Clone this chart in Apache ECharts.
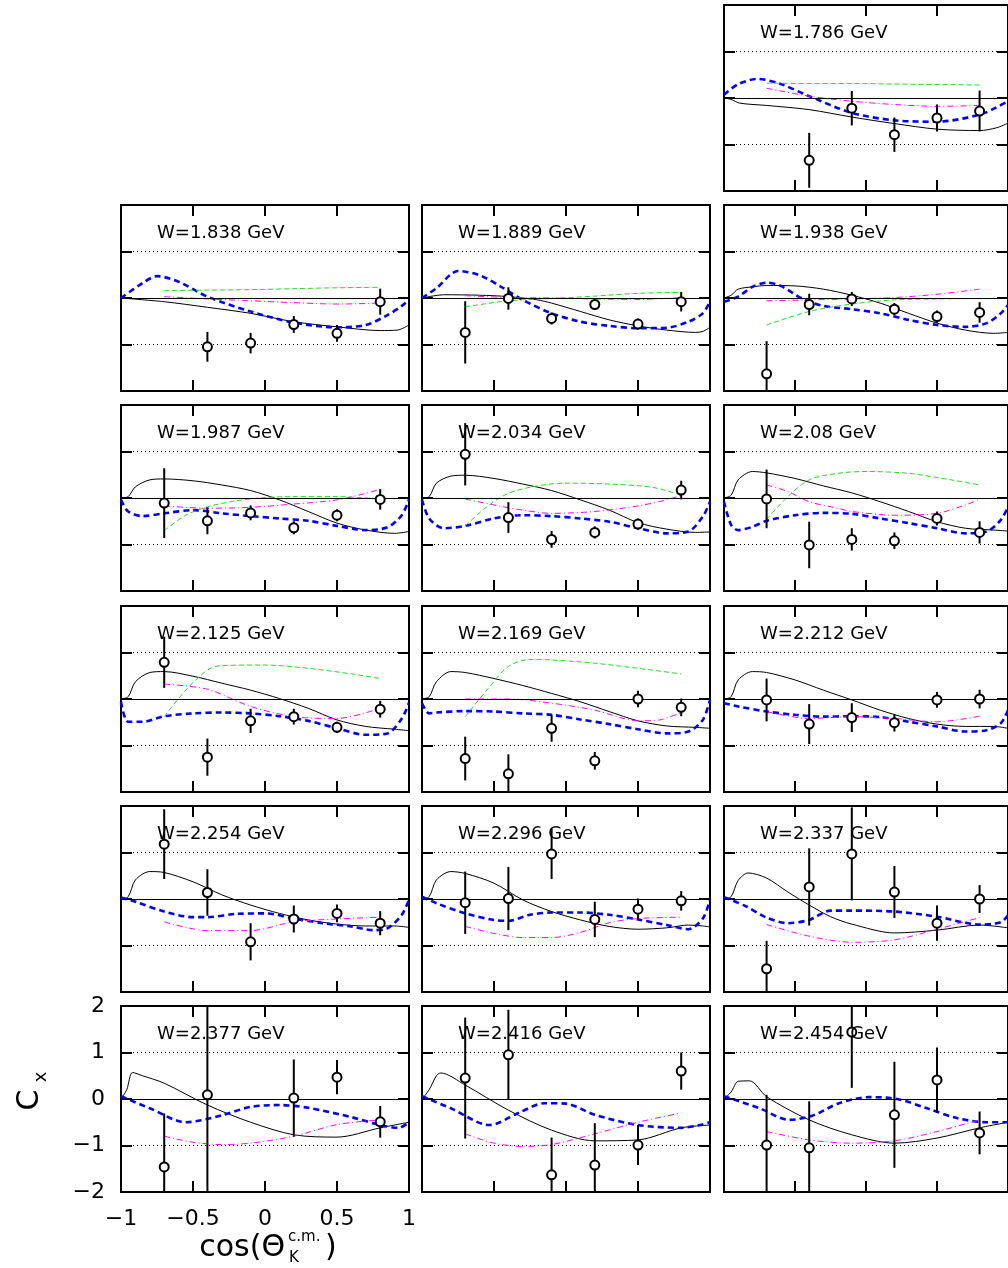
<!DOCTYPE html>
<html><head><meta charset="utf-8">
<script src="https://cdn.jsdelivr.net/npm/echarts@6/dist/echarts.min.js"></script>
<style>html,body{margin:0;padding:0;background:#fff}#c{width:1008px;height:1268px}</style>
</head><body><div id="c"></div>
<script>
// ---------- DATA ----------
const energies = ['1.786','1.838','1.889','1.938','1.987','2.034','2.08','2.125','2.169','2.212','2.254','2.296','2.337','2.377','2.416','2.454'];
const xTicks = [-1,-0.5,0,0.5,1];
const yTicks = [-2,-1,0,1,2];
// measured Cx: [cos, value, error]
const measured = [
 [[-0.4,-1.34,0.59],[-0.1,-0.22,0.37],[0.2,-0.79,0.37],[0.5,-0.43,0.29],[0.8,-0.28,0.44]],
 [[-0.4,-1.05,0.32],[-0.1,-0.97,0.22],[0.2,-0.57,0.18],[0.5,-0.76,0.18],[0.8,-0.08,0.28]],
 [[-0.7,-0.74,0.67],[-0.4,-0.01,0.24],[-0.1,-0.44,0.13],[0.2,-0.14,0.11],[0.5,-0.56,0.12],[0.8,-0.08,0.21]],
 [[-0.7,-1.63,0.7],[-0.4,-0.14,0.23],[-0.1,-0.02,0.15],[0.2,-0.24,0.13],[0.5,-0.4,0.13],[0.8,-0.31,0.22]],
 [[-0.7,-0.11,0.75],[-0.4,-0.49,0.29],[-0.1,-0.32,0.16],[0.2,-0.64,0.14],[0.5,-0.37,0.13],[0.8,-0.03,0.22]],
 [[-0.7,0.94,0.67],[-0.4,-0.42,0.33],[-0.1,-0.89,0.18],[0.2,-0.74,0.13],[0.5,-0.56,0.12],[0.8,0.17,0.2]],
 [[-0.7,-0.02,0.63],[-0.4,-1.01,0.5],[-0.1,-0.89,0.24],[0.2,-0.92,0.18],[0.5,-0.44,0.15],[0.8,-0.74,0.24]],
 [[-0.7,0.79,0.55],[-0.4,-1.25,0.4],[-0.1,-0.47,0.26],[0.2,-0.38,0.17],[0.5,-0.61,0.12],[0.8,-0.22,0.18]],
 [[-0.7,-1.28,0.47],[-0.4,-1.61,0.42],[-0.1,-0.63,0.29],[0.2,-1.33,0.19],[0.5,0,0.18],[0.8,-0.18,0.19]],
 [[-0.7,-0.02,0.46],[-0.4,-0.54,0.43],[-0.1,-0.4,0.31],[0.2,-0.51,0.19],[0.5,-0.02,0.17],[0.8,0,0.2]],
 [[-0.7,1.18,0.75],[-0.4,0.14,0.5],[-0.1,-0.92,0.4],[0.2,-0.43,0.29],[0.5,-0.31,0.19],[0.8,-0.52,0.26]],
 [[-0.7,-0.08,0.67],[-0.4,0.01,0.68],[-0.1,0.97,0.54],[0.2,-0.44,0.38],[0.5,-0.22,0.23],[0.8,-0.04,0.21]],
 [[-0.7,-1.5,0.6],[-0.4,0.26,0.83],[-0.1,0.97,1.0],[0.2,0.15,0.56],[0.5,-0.52,0.38],[0.8,0,0.3]],
 [[-0.7,-1.46,1.15],[-0.4,0.09,2.3],[0.2,0.02,0.83],[0.5,0.47,0.37],[0.8,-0.49,0.34]],
 [[-0.7,0.45,1.3],[-0.4,0.95,0.97],[-0.1,-1.63,0.8],[0.2,-1.42,0.9],[0.5,-0.99,0.43],[0.8,0.6,0.4]],
 [[-0.7,-0.99,1.08],[-0.4,-1.05,1.0],[-0.1,1.44,1.2],[0.2,-0.34,1.14],[0.5,0.41,0.7],[0.8,-0.73,0.46]]
];
// model curves
const curveBlack = [
 [[-1,0],[-0.95,-0.03],[-0.89,-0.11],[-0.7,-0.16],[-0.4,-0.25],[-0.1,-0.41],[0.2,-0.55],[0.5,-0.67],[0.8,-0.7],[0.92,-0.64],[1,-0.54]],
 [[-1,0],[-0.7,-0.08],[-0.4,-0.2],[-0.1,-0.33],[0.2,-0.51],[0.5,-0.62],[0.8,-0.7],[0.92,-0.69],[1,-0.58]],
 [[-1,0],[-0.93,0.04],[-0.85,0.07],[-0.6,0.06],[-0.4,0.03],[-0.2,-0.04],[-0.1,-0.11],[0.1,-0.29],[0.3,-0.47],[0.5,-0.6],[0.7,-0.69],[0.9,-0.74],[0.95,-0.72],[1,-0.63]],
 [[-1,0],[-0.95,0.06],[-0.9,0.19],[-0.8,0.24],[-0.7,0.27],[-0.5,0.26],[-0.3,0.19],[-0.1,0.06],[0.1,-0.11],[0.3,-0.33],[0.5,-0.54],[0.7,-0.69],[0.9,-0.76],[1,-0.74]],
 [[-1,0],[-0.95,0.03],[-0.9,0.24],[-0.8,0.39],[-0.7,0.41],[-0.5,0.37],[-0.3,0.28],[-0.1,0.16],[0.1,-0.04],[0.3,-0.29],[0.5,-0.54],[0.7,-0.69],[0.9,-0.76],[1,-0.72]],
 [[-1,0],[-0.95,0.03],[-0.9,0.32],[-0.8,0.47],[-0.7,0.49],[-0.5,0.42],[-0.3,0.3],[-0.1,0.16],[0.1,-0.04],[0.3,-0.26],[0.5,-0.53],[0.7,-0.67],[0.9,-0.74],[1,-0.73]],
 [[-1,0],[-0.95,0.06],[-0.9,0.39],[-0.8,0.57],[-0.7,0.54],[-0.5,0.42],[-0.3,0.26],[-0.1,0.11],[0.1,-0.08],[0.3,-0.29],[0.5,-0.51],[0.7,-0.65],[0.9,-0.69],[1,-0.71]],
 [[-1,0],[-0.95,0.05],[-0.9,0.37],[-0.8,0.57],[-0.7,0.59],[-0.5,0.49],[-0.3,0.34],[-0.1,0.19],[0.1,0.01],[0.3,-0.2],[0.5,-0.45],[0.7,-0.59],[0.9,-0.65],[1,-0.68]],
 [[-1,0],[-0.95,0.05],[-0.9,0.37],[-0.8,0.59],[-0.7,0.57],[-0.5,0.44],[-0.3,0.29],[-0.1,0.12],[0.1,-0.06],[0.3,-0.27],[0.5,-0.47],[0.7,-0.58],[0.9,-0.61],[1,-0.63]],
 [[-1,0],[-0.95,0.05],[-0.9,0.41],[-0.8,0.59],[-0.7,0.57],[-0.5,0.41],[-0.3,0.19],[-0.1,-0.02],[0.1,-0.24],[0.3,-0.42],[0.5,-0.54],[0.7,-0.59],[0.9,-0.59],[1,-0.63]],
 [[-1,0],[-0.95,0.05],[-0.9,0.41],[-0.8,0.59],[-0.7,0.57],[-0.5,0.37],[-0.3,0.09],[-0.1,-0.13],[0.1,-0.31],[0.3,-0.45],[0.5,-0.54],[0.7,-0.58],[0.9,-0.58],[1,-0.61]],
 [[-1,0],[-0.95,0.05],[-0.9,0.41],[-0.8,0.59],[-0.7,0.55],[-0.5,0.34],[-0.3,-0.02],[-0.1,-0.27],[0.1,-0.45],[0.3,-0.59],[0.5,-0.65],[0.7,-0.62],[0.85,-0.56],[0.95,-0.58],[1,-0.6]],
 [[-1,0],[-0.95,0.05],[-0.9,0.4],[-0.83,0.56],[-0.7,0.45],[-0.55,0.15],[-0.4,-0.13],[-0.25,-0.38],[-0.1,-0.54],[0.2,-0.73],[0.5,-0.67],[0.8,-0.56],[1,-0.62]],
 [[-1,0],[-0.96,0.2],[-0.92,0.57],[-0.85,0.5],[-0.7,0.34],[-0.4,-0.13],[-0.1,-0.5],[0.2,-0.77],[0.5,-0.82],[0.8,-0.62],[1,-0.5]],
 [[-1,0],[-0.95,0.2],[-0.9,0.5],[-0.87,0.56],[-0.7,0.3],[-0.4,-0.24],[-0.1,-0.67],[0.2,-0.9],[0.5,-0.88],[0.8,-0.62],[1,-0.56]],
 [[-1,0],[-0.95,0.15],[-0.9,0.38],[-0.82,0.39],[-0.7,0.05],[-0.4,-0.45],[-0.1,-0.77],[0.2,-0.95],[0.5,-0.84],[0.8,-0.62],[1,-0.5]]
];
const curveBlue = [
 [[-1,0.07],[-0.9,0.3],[-0.76,0.41],[-0.6,0.3],[-0.4,0.04],[-0.1,-0.32],[0.2,-0.48],[0.5,-0.51],[0.8,-0.36],[0.92,-0.2],[1,-0.07]],
 [[-1,0],[-0.85,0.32],[-0.75,0.47],[-0.6,0.35],[-0.4,0.03],[-0.1,-0.29],[0.2,-0.53],[0.5,-0.63],[0.7,-0.58],[0.85,-0.37],[0.95,-0.17],[1,-0.04]],
 [[-1,0],[-0.9,0.21],[-0.75,0.58],[-0.6,0.49],[-0.45,0.24],[-0.3,-0.04],[-0.1,-0.33],[0.1,-0.51],[0.3,-0.6],[0.5,-0.65],[0.7,-0.64],[0.85,-0.51],[0.95,-0.33],[1,-0.08]],
 [[-1,-0.08],[-0.9,0.03],[-0.8,0.24],[-0.7,0.33],[-0.6,0.26],[-0.45,-0.01],[-0.3,-0.17],[-0.1,-0.24],[0.1,-0.33],[0.3,-0.47],[0.5,-0.58],[0.7,-0.62],[0.85,-0.54],[0.95,-0.33],[1,-0.15]],
 [[-1,-0.04],[-0.95,-0.29],[-0.85,-0.39],[-0.7,-0.33],[-0.5,-0.26],[-0.3,-0.33],[-0.1,-0.39],[0.1,-0.44],[0.3,-0.49],[0.5,-0.6],[0.7,-0.69],[0.85,-0.63],[0.95,-0.37],[1,-0.03]],
 [[-1,-0.04],[-0.95,-0.44],[-0.85,-0.65],[-0.7,-0.6],[-0.5,-0.44],[-0.3,-0.37],[-0.1,-0.39],[0.1,-0.44],[0.3,-0.51],[0.5,-0.65],[0.7,-0.76],[0.85,-0.72],[0.95,-0.4],[1,-0.08]],
 [[-1,-0.08],[-0.95,-0.58],[-0.9,-0.69],[-0.8,-0.62],[-0.7,-0.49],[-0.5,-0.37],[-0.3,-0.32],[-0.1,-0.34],[0.1,-0.44],[0.3,-0.54],[0.5,-0.65],[0.7,-0.76],[0.85,-0.72],[0.95,-0.47],[1,-0.19]],
 [[-1,-0.06],[-0.95,-0.49],[-0.85,-0.49],[-0.7,-0.37],[-0.5,-0.31],[-0.3,-0.29],[-0.1,-0.31],[0.1,-0.37],[0.3,-0.47],[0.5,-0.63],[0.7,-0.77],[0.85,-0.74],[0.95,-0.42],[1,-0.08]],
 [[-1,-0.09],[-0.95,-0.31],[-0.9,-0.29],[-0.7,-0.26],[-0.5,-0.27],[-0.3,-0.31],[-0.1,-0.34],[0.1,-0.44],[0.3,-0.54],[0.5,-0.65],[0.7,-0.74],[0.85,-0.7],[0.95,-0.45],[1,-0.02]],
 [[-1,-0.09],[-0.9,-0.16],[-0.7,-0.27],[-0.5,-0.34],[-0.3,-0.38],[-0.1,-0.37],[0.1,-0.39],[0.3,-0.49],[0.5,-0.59],[0.7,-0.7],[0.85,-0.67],[0.95,-0.52],[1,-0.24]],
 [[-1,0.03],[-0.9,-0.06],[-0.7,-0.27],[-0.5,-0.39],[-0.4,-0.39],[-0.2,-0.32],[0,-0.31],[0.2,-0.42],[0.4,-0.52],[0.6,-0.59],[0.75,-0.67],[0.85,-0.63],[0.95,-0.34],[1,-0.01]],
 [[-1,0.05],[-0.9,-0.09],[-0.7,-0.31],[-0.5,-0.45],[-0.4,-0.47],[-0.25,-0.34],[-0.1,-0.29],[0.1,-0.29],[0.3,-0.34],[0.5,-0.44],[0.7,-0.56],[0.85,-0.65],[0.95,-0.42],[1,-0.01]],
 [[-1,0.04],[-0.85,-0.15],[-0.7,-0.4],[-0.55,-0.52],[-0.4,-0.45],[-0.25,-0.25],[-0.1,-0.25],[0.2,-0.27],[0.5,-0.38],[0.8,-0.55],[0.95,-0.5],[1,-0.35]],
 [[-1,0.06],[-0.8,-0.2],[-0.55,-0.5],[-0.3,-0.35],[-0.1,-0.17],[0.1,-0.13],[0.3,-0.19],[0.6,-0.39],[0.8,-0.56],[0.93,-0.62],[1,-0.5]],
 [[-1,0.06],[-0.8,-0.2],[-0.53,-0.56],[-0.33,-0.3],[-0.15,-0.09],[0,-0.1],[0.2,-0.34],[0.5,-0.56],[0.8,-0.62],[0.93,-0.56],[1,-0.5]],
 [[-1,0.06],[-0.75,-0.2],[-0.54,-0.45],[-0.37,-0.35],[-0.19,-0.09],[0.02,0.04],[0.22,0],[0.43,-0.2],[0.64,-0.41],[0.85,-0.5],[1,-0.5]]
];
const curveGreen = [
 [[-0.7,0.32],[-0.4,0.31],[-0.1,0.31],[0.2,0.3],[0.5,0.29],[0.8,0.28]],
 [[-0.7,0.16],[-0.4,0.17],[-0.1,0.18],[0.2,0.2],[0.5,0.22],[0.8,0.23]],
 [[-0.7,-0.19],[-0.4,-0.06],[-0.1,-0.01],[0.2,0.04],[0.5,0.1],[0.8,0.12]],
 [[-0.7,-0.58],[-0.4,-0.29],[-0.1,-0.13],[0.2,-0.04],[0.5,-0.02],[0.8,-0.01]],
 [[-0.7,-0.7],[-0.55,-0.37],[-0.4,-0.19],[-0.2,-0.06],[0,0.01],[0.2,0.03],[0.5,0.03],[0.8,-0.02]],
 [[-0.7,-0.6],[-0.55,-0.19],[-0.4,0.1],[-0.2,0.26],[0,0.32],[0.3,0.3],[0.6,0.23],[0.8,0.06]],
 [[-0.7,-0.46],[-0.55,0.03],[-0.4,0.39],[-0.2,0.53],[0,0.57],[0.3,0.53],[0.6,0.39],[0.8,0.28]],
 [[-0.7,-0.38],[-0.55,0.19],[-0.4,0.62],[-0.3,0.72],[0,0.73],[0.3,0.66],[0.6,0.54],[0.8,0.44]],
 [[-0.7,-0.38],[-0.55,0.19],[-0.4,0.7],[-0.25,0.85],[-0.1,0.84],[0.2,0.77],[0.5,0.66],[0.8,0.54]],
 [],[],[],[],[],[],[]
];
const curveMagenta = [
 [[-0.7,0.21],[-0.4,0.04],[-0.1,-0.07],[0.2,-0.14],[0.5,-0.18],[0.8,-0.16]],
 [[-0.7,0.03],[-0.4,-0.02],[-0.1,-0.06],[0.2,-0.1],[0.5,-0.13],[0.8,-0.11]],
 [[-0.7,0.05],[-0.4,0.01],[-0.1,0],[0.2,-0.02],[0.5,-0.03],[0.8,0.01]],
 [[-0.7,-0.06],[-0.4,-0.04],[-0.1,-0.02],[0.2,0.01],[0.5,0.08],[0.8,0.19]],
 [[-0.7,-0.17],[-0.4,-0.22],[-0.1,-0.2],[0.2,-0.13],[0.5,-0.04],[0.7,0.1],[0.8,0.19]],
 [[-0.7,-0.02],[-0.5,-0.15],[-0.3,-0.26],[-0.1,-0.33],[0.2,-0.29],[0.5,-0.17],[0.7,-0.04],[0.8,0.06]],
 [[-0.7,0.28],[-0.55,0.14],[-0.4,-0.08],[-0.2,-0.22],[-0.1,-0.29],[0.2,-0.37],[0.5,-0.33],[0.7,-0.15],[0.8,-0.03]],
 [[-0.7,0.32],[-0.4,0.21],[-0.1,-0.16],[0.2,-0.38],[0.5,-0.42],[0.8,-0.2]],
 [[-0.7,0],[-0.4,0],[-0.1,-0.09],[0.2,-0.24],[0.5,-0.47],[0.65,-0.45],[0.8,-0.29]],
 [[-0.7,-0.27],[-0.4,-0.42],[-0.1,-0.38],[0.2,-0.42],[0.5,-0.49],[0.8,-0.37]],
 [[-0.7,-0.49],[-0.4,-0.68],[-0.1,-0.68],[0.2,-0.49],[0.5,-0.43],[0.8,-0.39]],
 [[-0.7,-0.59],[-0.5,-0.74],[-0.3,-0.83],[-0.1,-0.83],[0.1,-0.72],[0.3,-0.51],[0.5,-0.42],[0.8,-0.39]],
 [[-0.7,-0.55],[-0.4,-0.8],[-0.1,-0.93],[0.2,-0.88],[0.5,-0.65],[0.8,-0.4]],
 [[-0.7,-0.8],[-0.5,-0.93],[-0.3,-0.98],[-0.1,-0.95],[0.2,-0.8],[0.5,-0.55],[0.8,-0.45]],
 [[-0.7,-0.75],[-0.5,-0.95],[-0.3,-1.02],[-0.1,-0.98],[0.2,-0.75],[0.5,-0.5],[0.8,-0.3]],
 [[-0.7,-0.7],[-0.4,-0.88],[-0.1,-0.95],[0.2,-0.9],[0.5,-0.7],[0.8,-0.45]]
];

// ---------- LAYOUT ----------
const colLeft = [121, 422, 724];
const rowTop = [5, 205, 405, 606, 806, 1006];
const PW = 288, PH = 186;
const labeledPanel = 13;
function place(i){ if (i === 0) return [0, 2]; const k = i - 1; return [Math.floor(k/3) + 1, k % 3]; }
const fmt = v => (v < 0 ? '\u2212' + String(-v) : String(v));

const grid = [], xAxis = [], yAxis = [], series = [], graphic = [];
const tick = {show:true, inside:true, length:11, lineStyle:{color:'#000', width:2}};
const noLine = {show:false, onZero:false};
const lblFont = {show:true, color:'#000', fontFamily:'DejaVu Sans', fontSize:22, formatter: fmt};

energies.forEach((w, i) => {
  const [r, c] = place(i);
  const lab = (i === labeledPanel);
  grid.push({left:colLeft[c], top:rowTop[r], width:PW, height:PH, show:true, borderColor:'#000', borderWidth:2, backgroundColor:'rgba(0,0,0,0)', containLabel:false});
  xAxis.push({gridIndex:i, type:'value', min:xTicks[0], max:xTicks[xTicks.length-1], interval:0.5, position:'bottom',
    axisLine:noLine, axisTick:tick, splitLine:{show:false},
    axisLabel: lab ? Object.assign({margin:16}, lblFont) : {show:false}});
  xAxis.push({gridIndex:i, type:'value', min:-1, max:1, interval:0.5, position:'top',
    axisLine:noLine, axisTick:tick, splitLine:{show:false}, axisLabel:{show:false}});
  yAxis.push({gridIndex:i, type:'value', min:yTicks[0], max:yTicks[yTicks.length-1], interval:1, position:'left',
    axisLine:noLine, axisTick:tick,
    splitLine:{show:true, lineStyle:{color:'#000', width:1, type:[1,3]}},
    axisLabel: lab ? Object.assign({margin:16}, lblFont) : {show:false}});
  yAxis.push({gridIndex:i, type:'value', min:-2, max:2, interval:1, position:'right',
    axisLine:noLine, axisTick:tick, splitLine:{show:false}, axisLabel:{show:false}});
  const ax = {xAxisIndex:2*i, yAxisIndex:2*i};

  series.push(Object.assign({type:'line', data:curveBlack[i], smooth:0.3, symbol:'none', silent:true, z:3,
    lineStyle:{color:'#000', width:1},
    markLine:{symbol:'none', silent:true, label:{show:false}, lineStyle:{color:'#000', width:1, type:'solid'}, data:[{yAxis:0}]}}, ax));
  series.push(Object.assign({type:'line', data:curveBlue[i], smooth:0.3, symbol:'none', silent:true, z:3,
    lineStyle:{color:'#0000ff', width:2.6, type:[6,4]}}, ax));
  if (curveGreen[i].length) series.push(Object.assign({type:'line', data:curveGreen[i], smooth:0.3, symbol:'none', silent:true, z:3,
    lineStyle:{color:'#22dd22', width:1, type:[5,3]}}, ax));
  series.push(Object.assign({type:'line', data:curveMagenta[i], smooth:0.3, symbol:'none', silent:true, z:3,
    lineStyle:{color:'#ff00ff', width:1, type:[6,3,1,3]}}, ax));
  series.push(Object.assign({type:'custom', data:measured[i], dimensions:['x','y','e'], encode:{x:0, y:1}, silent:true, z:5,
    renderItem:(params, api) => {
      const x = api.value(0), y = api.value(1), e = api.value(2);
      const hi = Math.min(2, y + e), lo = Math.max(-2, y - e);
      const a = api.coord([x, hi]), b = api.coord([x, lo]);
      return {type:'line', shape:{x1:a[0], y1:a[1], x2:b[0], y2:b[1]}, style:{stroke:'#000', lineWidth:2}};
    }}, ax));
  series.push(Object.assign({type:'scatter', data:measured[i].map(d => [d[0], d[1]]), symbol:'circle', symbolSize:9, silent:true, z:6,
    itemStyle:{color:'#ffffff', opacity:1, borderColor:'#000', borderWidth:2}}, ax));

  graphic.push({type:'text', x:colLeft[c] + 36, y:rowTop[r] + 28, z:10,
    style:{text:'W=' + w + ' GeV', font:'18px "DejaVu Sans"', fill:'#000', textAlign:'left', textVerticalAlign:'middle'}});
});

// axis titles
graphic.push({type:'text', x:30, y:1100, rotation:Math.PI/2,
  style:{text:'C', font:'30px "DejaVu Sans"', fill:'#000', textAlign:'center', textVerticalAlign:'middle'}});
graphic.push({type:'text', x:41, y:1077, rotation:Math.PI/2,
  style:{text:'x', font:'18px "DejaVu Sans"', fill:'#000', textAlign:'center', textVerticalAlign:'middle'}});
graphic.push({type:'text', x:285, y:1248,
  style:{text:'cos(\u0398', font:'30px "DejaVu Sans"', fill:'#000', textAlign:'right', textVerticalAlign:'middle'}});
graphic.push({type:'text', x:288, y:1237,
  style:{text:'c.m.', font:'15px "DejaVu Sans"', fill:'#000', textAlign:'left', textVerticalAlign:'middle'}});
graphic.push({type:'text', x:289, y:1258,
  style:{text:'K', font:'15px "DejaVu Sans"', fill:'#000', textAlign:'left', textVerticalAlign:'middle'}});
graphic.push({type:'text', x:325, y:1248,
  style:{text:')', font:'30px "DejaVu Sans"', fill:'#000', textAlign:'left', textVerticalAlign:'middle'}});

const chart = echarts.init(document.getElementById('c'), null, {renderer:'canvas'});
chart.setOption({animation:false, backgroundColor:'#fff', grid, xAxis, yAxis, series, graphic});
</script></body></html>
